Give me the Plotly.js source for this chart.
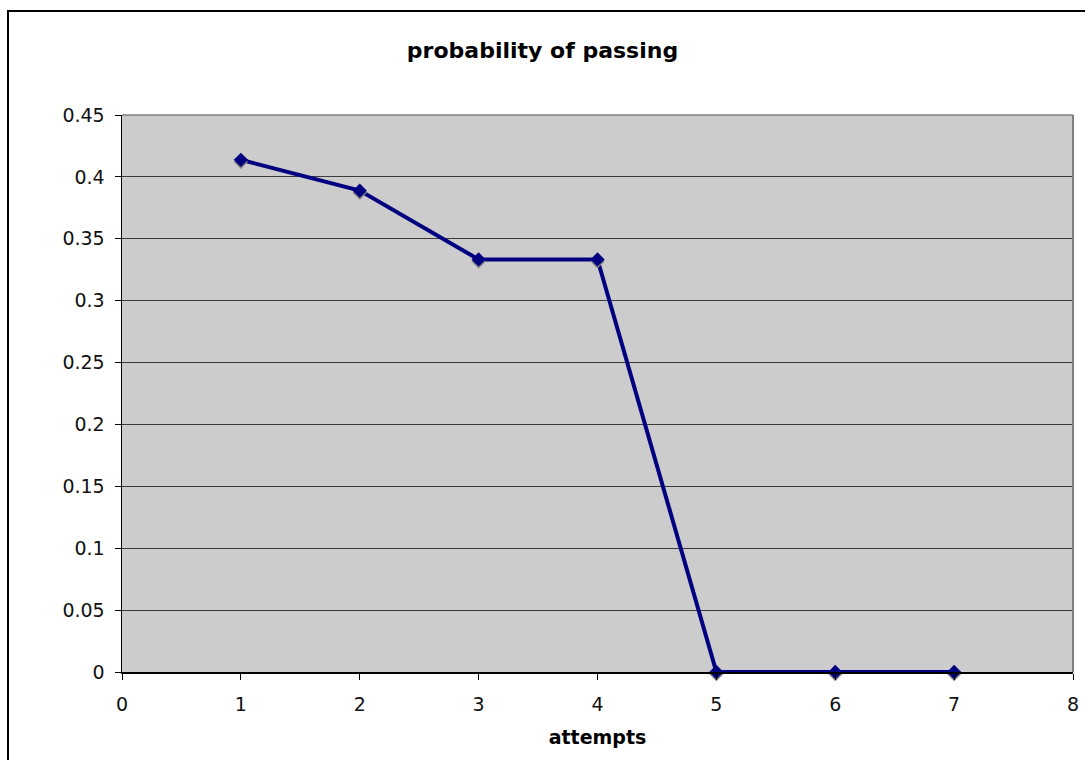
<!DOCTYPE html>
<html>
<head>
<meta charset="utf-8">
<script src="https://cdn.plot.ly/plotly-3.0.1.min.js"></script>
<style>
html,body{margin:0;padding:0;background:#fff;overflow:hidden;}
#chart{width:1085px;height:760px;}
#chart .scatterlayer .points path{filter:drop-shadow(0px 2px 0px #808080);}
</style>
</head>
<body>
<div id="chart"></div>
<script>
const attempts = [1, 2, 3, 4, 5, 6, 7];
const probability = [0.4138, 0.3889, 0.3333, 0.3333, 0, 0, 0];
const chartTitle = "probability of passing";
const xTitle = "attempts";

const ml = 122, mr = 12, mt = 115, mb = 88;
const pw = 1085 - ml - mr, ph = 760 - mt - mb;
const px = v => (v - ml) / pw;
const py = v => (760 - mb - v) / ph;

const trace = {
  x: attempts,
  y: probability,
  type: 'scatter',
  mode: 'lines+markers',
  line: {color: '#000080', width: 4},
  marker: {symbol: 'diamond', size: 11, color: '#000080'},
  cliponaxis: false,
  showlegend: false
};

const layout = {
  width: 1085, height: 760,
  margin: {l: ml, r: mr, t: mt, b: mb},
  paper_bgcolor: '#ffffff',
  plot_bgcolor: '#cccccc',
  font: {family: 'DejaVu Sans, Verdana, sans-serif', color: '#000', size: 19},
  title: {text: '<b>' + chartTitle + '</b>', font: {size: 22, color: '#000'}, x: 0.5, xanchor: 'center', y: 1 - 50/760, yanchor: 'middle'},
  xaxis: {
    range: [0, 8], dtick: 1, tick0: 0,
    showgrid: false, zeroline: false,
    showline: true, linecolor: '#000', linewidth: 1.5,
    ticks: 'outside', ticklen: 6, tickcolor: '#000', tickwidth: 1,
    ticklabelstandoff: 9,
    tickfont: {size: 19, color: '#111'},
    title: {text: '<b>' + xTitle + '</b>', font: {size: 19, color: '#000'}, standoff: 16},
    fixedrange: true
  },
  yaxis: {
    range: [0, 0.45], dtick: 0.05, tick0: 0,
    showgrid: true, gridcolor: '#3a3a3a', gridwidth: 1,
    zeroline: false,
    showline: true, linecolor: '#000', linewidth: 1.5,
    ticks: 'outside', ticklen: 6, tickcolor: '#000', tickwidth: 1,
    ticklabelstandoff: 6,
    tickfont: {size: 19, color: '#111'},
    fixedrange: true
  },
  shapes: [
    {type: 'line', xref: 'paper', yref: 'paper', x0: 1, x1: 1, y0: 0, y1: 1, line: {color: '#808080', width: 2}},
    {type: 'line', xref: 'paper', yref: 'paper', x0: 0, x1: 1, y0: 1, y1: 1, line: {color: '#808080', width: 1.5}},
    {type: 'rect', xref: 'paper', yref: 'paper', x0: px(8), x1: px(1100), y0: py(770), y1: py(11), line: {color: '#000', width: 2}, fillcolor: 'rgba(0,0,0,0)'}
  ]
};

Plotly.newPlot('chart', [trace], layout, {displayModeBar: false, staticPlot: true});
</script>
</body>
</html>
